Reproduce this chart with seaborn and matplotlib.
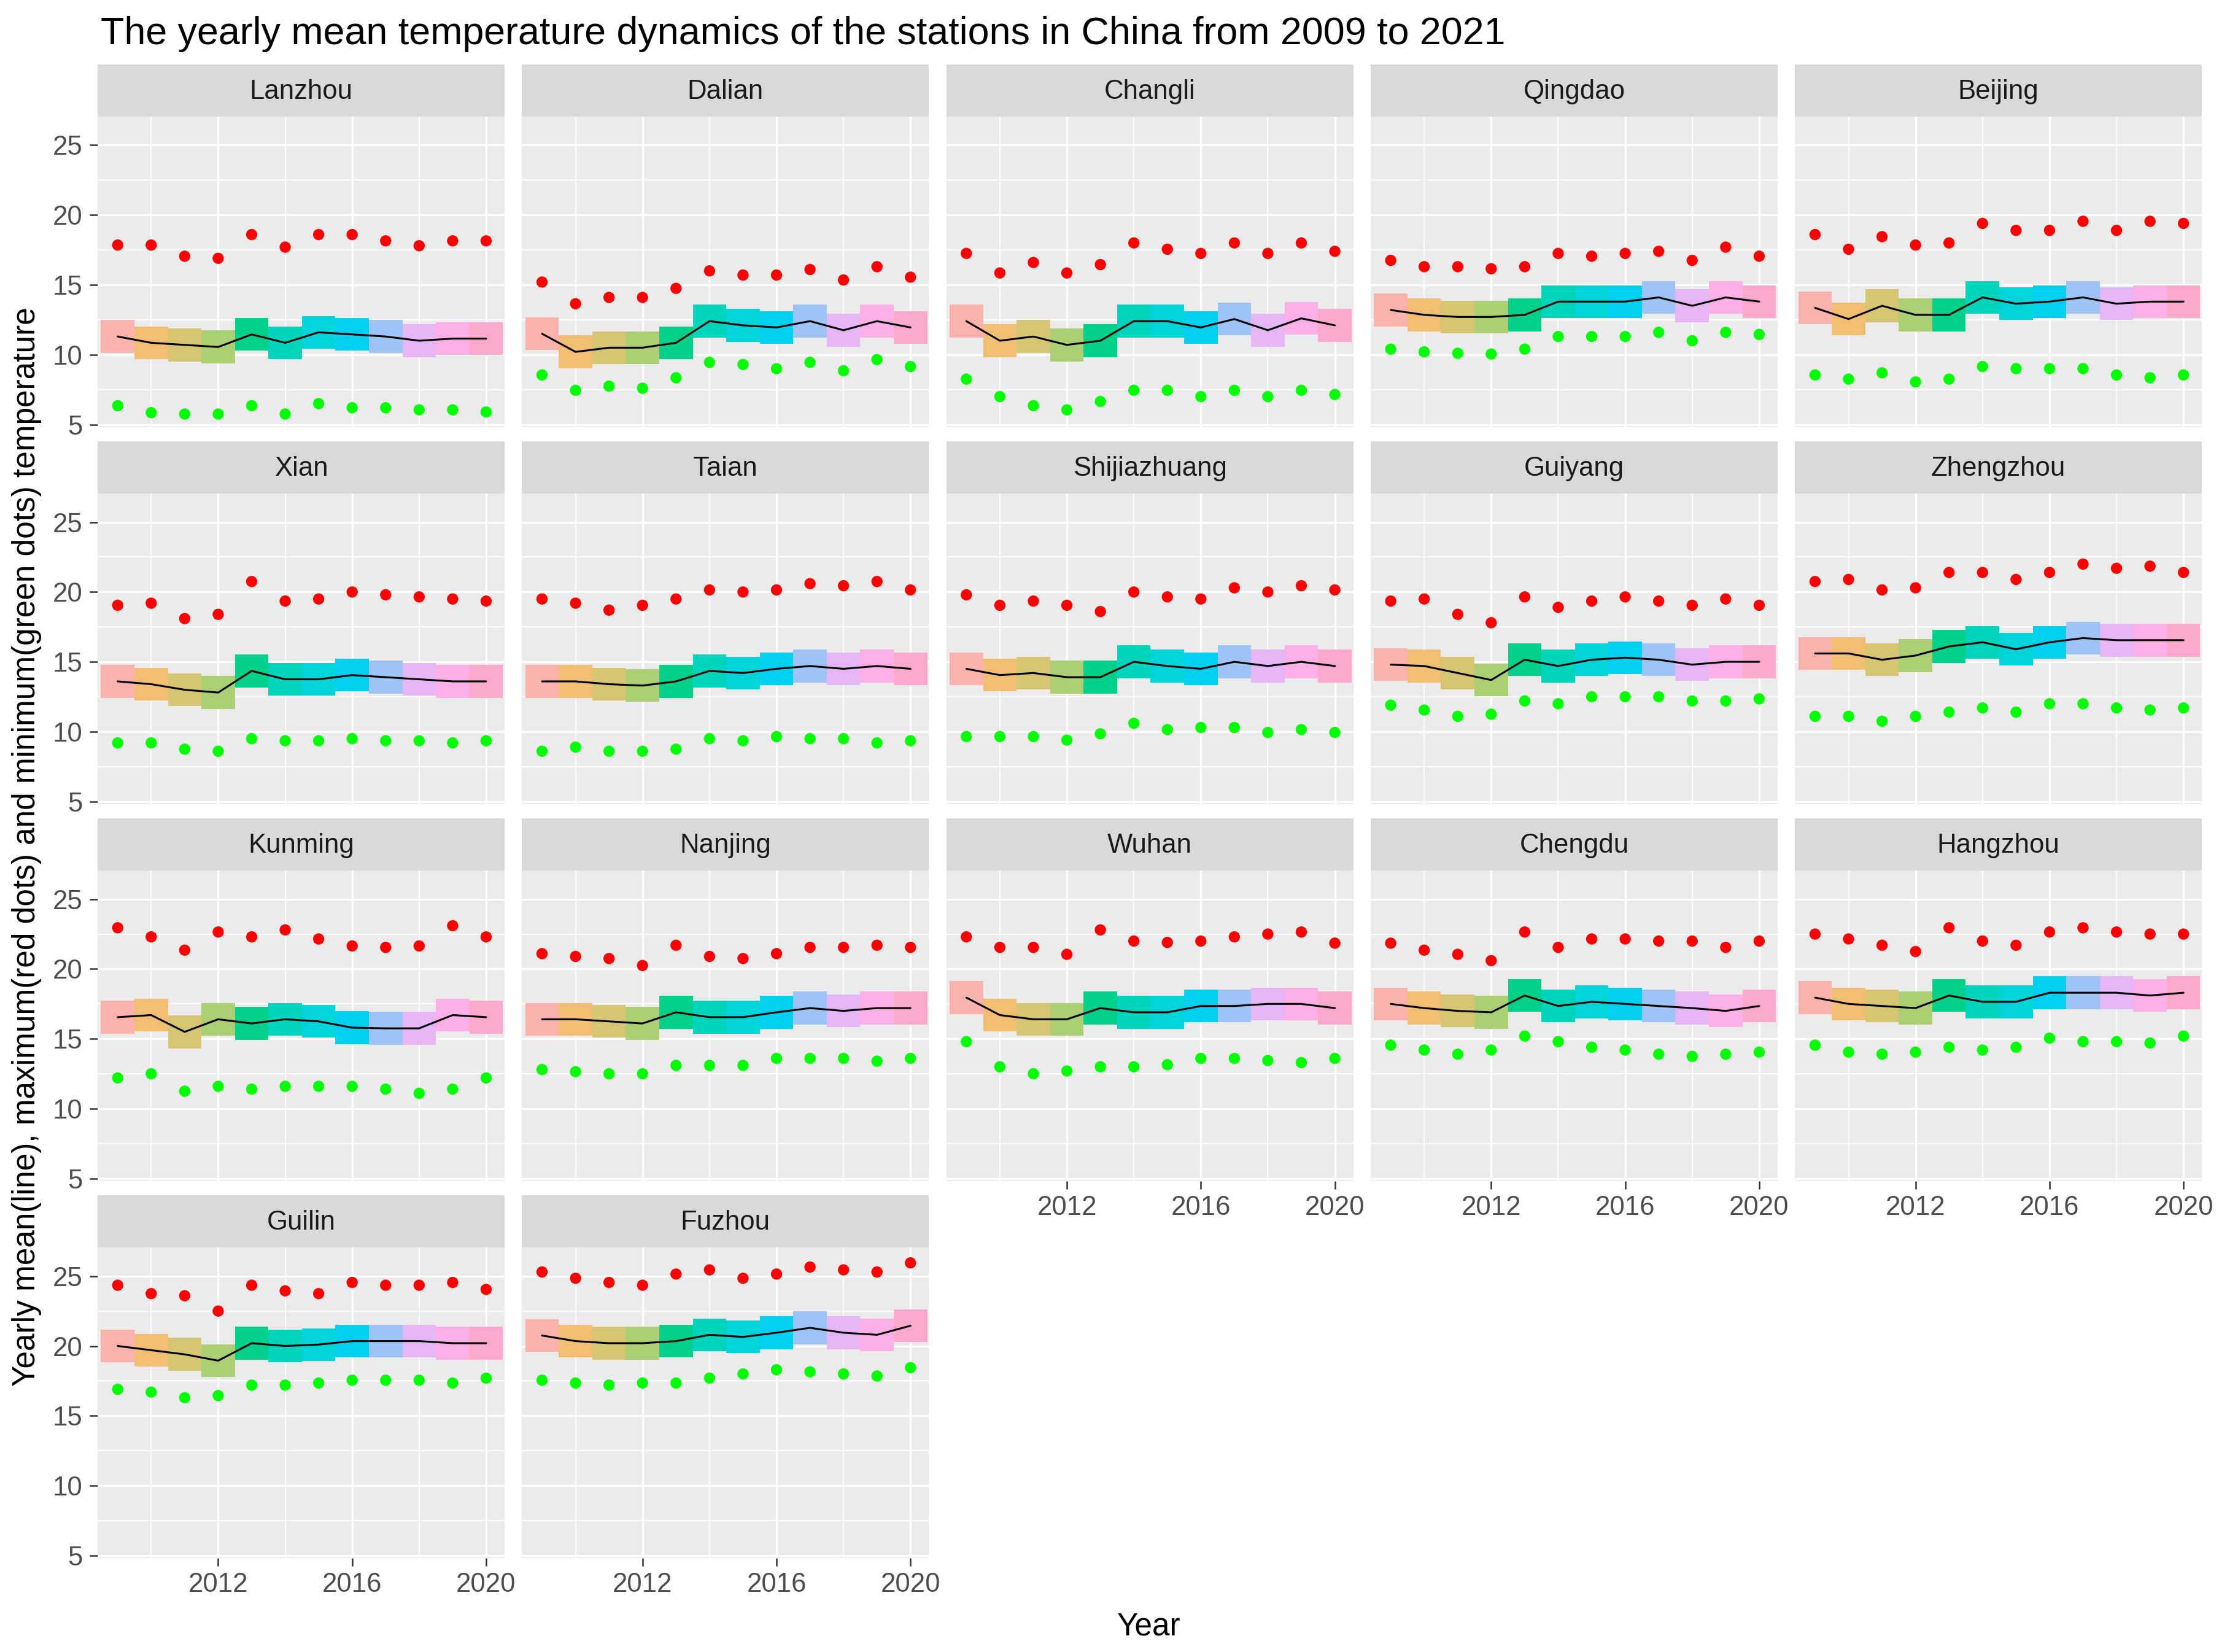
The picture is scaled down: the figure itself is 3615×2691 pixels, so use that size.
import matplotlib
matplotlib.use("Agg")
import matplotlib.pyplot as plt
import seaborn as sns
import pandas as pd
import numpy as np

# ---------------- data ----------------
years = [2009, 2010, 2011, 2012, 2013, 2014, 2015, 2016, 2017, 2018, 2019, 2020]

stations = ["Lanzhou", "Dalian", "Changli", "Qingdao", "Beijing",
            "Xian", "Taian", "Shijiazhuang", "Guiyang", "Zhengzhou",
            "Kunming", "Nanjing", "Wuhan", "Chengdu", "Hangzhou",
            "Guilin", "Fuzhou"]

mean_temp = [
    [11.3, 10.85, 10.7, 10.55, 11.45, 10.85, 11.6, 11.45, 11.3, 11.0, 11.15, 11.15],
    [11.5, 10.2, 10.5, 10.5, 10.85, 12.4, 12.1, 11.95, 12.4, 11.75, 12.4, 11.95],
    [12.4, 11.0, 11.3, 10.7, 11.0, 12.4, 12.4, 11.95, 12.55, 11.75, 12.6, 12.1],
    [13.2, 12.85, 12.7, 12.7, 12.85, 13.8, 13.8, 13.8, 14.1, 13.5, 14.1, 13.8],
    [13.35, 12.55, 13.5, 12.85, 12.85, 14.1, 13.65, 13.8, 14.1, 13.65, 13.8, 13.8],
    [13.6, 13.4, 13.0, 12.8, 14.35, 13.75, 13.75, 14.05, 13.9, 13.75, 13.6, 13.6],
    [13.6, 13.6, 13.4, 13.3, 13.6, 14.35, 14.2, 14.5, 14.7, 14.5, 14.7, 14.5],
    [14.5, 14.05, 14.2, 13.9, 13.9, 15.0, 14.7, 14.5, 15.0, 14.7, 15.0, 14.7],
    [14.8, 14.7, 14.2, 13.7, 15.15, 14.7, 15.15, 15.3, 15.15, 14.8, 15.0, 15.0],
    [15.6, 15.6, 15.15, 15.45, 16.1, 16.4, 15.9, 16.4, 16.7, 16.55, 16.55, 16.55],
    [16.55, 16.7, 15.5, 16.4, 16.1, 16.4, 16.25, 15.8, 15.75, 15.75, 16.7, 16.55],
    [16.4, 16.4, 16.25, 16.1, 16.9, 16.55, 16.55, 16.9, 17.2, 17.0, 17.2, 17.2],
    [17.95, 16.7, 16.4, 16.4, 17.2, 16.9, 16.9, 17.35, 17.35, 17.5, 17.5, 17.2],
    [17.5, 17.2, 17.0, 16.9, 18.1, 17.35, 17.65, 17.5, 17.35, 17.2, 17.0, 17.35],
    [17.95, 17.5, 17.35, 17.2, 18.1, 17.65, 17.65, 18.3, 18.3, 18.3, 18.1, 18.3],
    [20.0, 19.7, 19.4, 18.95, 20.2, 20.0, 20.1, 20.35, 20.35, 20.35, 20.2, 20.2],
    [20.75, 20.35, 20.2, 20.2, 20.35, 20.8, 20.65, 20.95, 21.3, 20.95, 20.8, 21.45],
]

max_temp = [
    [17.85, 17.85, 17.05, 16.9, 18.6, 17.7, 18.6, 18.6, 18.15, 17.8, 18.15, 18.15],
    [15.2, 13.65, 14.1, 14.1, 14.75, 16.0, 15.7, 15.7, 16.1, 15.35, 16.3, 15.55],
    [17.25, 15.85, 16.6, 15.85, 16.45, 18.0, 17.55, 17.25, 18.0, 17.25, 18.0, 17.4],
    [16.75, 16.3, 16.3, 16.15, 16.3, 17.25, 17.05, 17.25, 17.4, 16.75, 17.7, 17.05],
    [18.6, 17.55, 18.45, 17.85, 18.0, 19.4, 18.9, 18.9, 19.55, 18.9, 19.55, 19.4],
    [19.05, 19.2, 18.1, 18.4, 20.75, 19.35, 19.5, 20.0, 19.8, 19.65, 19.5, 19.35],
    [19.5, 19.2, 18.7, 19.05, 19.5, 20.15, 20.0, 20.15, 20.6, 20.45, 20.75, 20.15],
    [19.8, 19.05, 19.35, 19.05, 18.6, 20.0, 19.65, 19.5, 20.3, 20.0, 20.45, 20.15],
    [19.35, 19.5, 18.4, 17.8, 19.65, 18.9, 19.35, 19.65, 19.35, 19.05, 19.5, 19.05],
    [20.75, 20.9, 20.15, 20.3, 21.4, 21.4, 20.9, 21.4, 22.0, 21.7, 21.85, 21.4],
    [22.95, 22.3, 21.35, 22.65, 22.3, 22.8, 22.15, 21.65, 21.55, 21.65, 23.1, 22.3],
    [21.1, 20.9, 20.75, 20.25, 21.7, 20.9, 20.75, 21.1, 21.55, 21.55, 21.7, 21.55],
    [22.3, 21.55, 21.55, 21.05, 22.8, 22.0, 21.9, 22.0, 22.3, 22.5, 22.65, 21.85],
    [21.85, 21.35, 21.05, 20.6, 22.65, 21.55, 22.15, 22.15, 22.0, 22.0, 21.55, 22.0],
    [22.5, 22.15, 21.7, 21.25, 22.95, 22.0, 21.7, 22.65, 22.95, 22.65, 22.5, 22.5],
    [24.35, 23.75, 23.6, 22.5, 24.35, 23.95, 23.75, 24.55, 24.35, 24.35, 24.55, 24.05],
    [25.3, 24.85, 24.55, 24.35, 25.15, 25.45, 24.85, 25.15, 25.65, 25.45, 25.3, 25.95],
]

min_temp = [
    [6.35, 5.85, 5.75, 5.75, 6.35, 5.75, 6.5, 6.2, 6.2, 6.05, 6.05, 5.9],
    [8.55, 7.45, 7.75, 7.6, 8.35, 9.45, 9.3, 9.0, 9.45, 8.85, 9.65, 9.15],
    [8.25, 7.0, 6.35, 6.05, 6.65, 7.45, 7.45, 7.0, 7.45, 7.0, 7.45, 7.15],
    [10.4, 10.2, 10.1, 10.05, 10.4, 11.3, 11.3, 11.3, 11.6, 11.0, 11.6, 11.45],
    [8.55, 8.25, 8.7, 8.05, 8.25, 9.15, 9.0, 9.0, 9.0, 8.55, 8.35, 8.55],
    [9.2, 9.2, 8.75, 8.6, 9.5, 9.35, 9.35, 9.5, 9.35, 9.35, 9.2, 9.35],
    [8.6, 8.9, 8.6, 8.6, 8.75, 9.5, 9.35, 9.65, 9.5, 9.5, 9.2, 9.35],
    [9.65, 9.65, 9.65, 9.4, 9.85, 10.6, 10.15, 10.3, 10.3, 9.95, 10.15, 9.95],
    [11.9, 11.55, 11.1, 11.25, 12.2, 12.0, 12.5, 12.5, 12.5, 12.2, 12.2, 12.35],
    [11.1, 11.1, 10.75, 11.1, 11.4, 11.7, 11.4, 12.0, 12.0, 11.7, 11.55, 11.7],
    [12.2, 12.5, 11.25, 11.6, 11.4, 11.6, 11.6, 11.6, 11.4, 11.1, 11.4, 12.2],
    [12.8, 12.65, 12.5, 12.5, 13.1, 13.1, 13.1, 13.6, 13.6, 13.6, 13.4, 13.6],
    [14.8, 13.0, 12.5, 12.7, 13.0, 13.0, 13.15, 13.6, 13.6, 13.45, 13.3, 13.6],
    [14.55, 14.2, 13.9, 14.2, 15.2, 14.8, 14.4, 14.2, 13.9, 13.75, 13.9, 14.05],
    [14.55, 14.05, 13.9, 14.05, 14.4, 14.2, 14.4, 15.05, 14.8, 14.8, 14.7, 15.2],
    [16.9, 16.7, 16.3, 16.45, 17.2, 17.2, 17.35, 17.55, 17.55, 17.55, 17.35, 17.7],
    [17.55, 17.35, 17.2, 17.35, 17.35, 17.7, 18.0, 18.3, 18.15, 18.0, 17.85, 18.45],
]

x_ticks = [2012, 2016, 2020]
y_ticks = [5, 10, 15, 20, 25]

title = "The yearly mean temperature dynamics of the stations in China from 2009 to 2021"
x_label = "Year"
y_label = "Yearly mean(line), maximum(red dots) and minimum(green dots) temperature"

# ---------------- style ----------------
tile_colors = ["#FCB2AC", "#F2BE74", "#D6C673", "#ABCF72", "#00D08C", "#00D4BC",
               "#00D4D8", "#00CFF0", "#9EC4F6", "#E5B5F5", "#FDAFE8", "#FCA8CC"]
TILE_H = 2.35

sns.set_theme(style="darkgrid")
plt.rcParams["font.family"] = ["Liberation Sans", "DejaVu Sans"]

W, H = 3615, 2691
DPI = 100
fig = plt.figure(figsize=(W / DPI, H / DPI), dpi=DPI)
fig.patch.set_facecolor("white")

ncol = 5
panel_w = 663
col_pitch = 691.3
left0 = 159
strip_top0 = 104.6
row_pitch = 614.1
strip_h = 85
panel_h = 506

XLIM = (2008.40, 2020.55)
YLIM = (4.82, 27.06)

FS_TICK = 31.5
FS_STRIP = 31.5

nrows_in_col = {}
for k in range(len(stations)):
    c = k % ncol
    r = k // ncol
    nrows_in_col[c] = max(nrows_in_col.get(c, 0), r)

for k, name in enumerate(stations):
    r, c = divmod(k, ncol)
    lx = left0 + c * col_pitch
    st = strip_top0 + r * row_pitch
    pt = st + strip_h

    ax = fig.add_axes([lx / W, 1 - (pt + panel_h) / H, panel_w / W, panel_h / H])
    sax = fig.add_axes([lx / W, 1 - pt / H, panel_w / W, strip_h / H])
    sax.set_facecolor("#D9D9D9")
    sax.set_xticks([]); sax.set_yticks([])
    for s in sax.spines.values():
        s.set_visible(False)
    sax.grid(False)
    sax.text(0.5, 0.47, name, ha="center", va="center", fontsize=FS_STRIP,
             color="#1A1A1A", transform=sax.transAxes)

    df = pd.DataFrame({"year": years, "mean": mean_temp[k],
                       "max": max_temp[k], "min": min_temp[k]})

    ax.set_facecolor("#EBEBEB")
    ax.set_axisbelow(True)
    ax.bar(df["year"], TILE_H, bottom=df["mean"] - TILE_H / 2, width=1.0,
           color=tile_colors, linewidth=0, zorder=1)
    sns.lineplot(data=df, x="year", y="mean", ax=ax, color="black",
                 linewidth=2.2, zorder=2)
    sns.scatterplot(data=df, x="year", y="max", ax=ax, color="#FF0000",
                    s=175, edgecolor="none", linewidth=0, zorder=3)
    sns.scatterplot(data=df, x="year", y="min", ax=ax, color="#00FF00",
                    s=175, edgecolor="none", linewidth=0, zorder=3)

    ax.set_xlim(*XLIM)
    ax.set_ylim(*YLIM)
    ax.set_xticks(x_ticks)
    ax.set_xticks([2010, 2014, 2018], minor=True)
    ax.set_yticks(y_ticks)
    ax.set_yticks([7.5, 12.5, 17.5, 22.5], minor=True)
    ax.set_xlabel("")
    ax.set_ylabel("")
    ax.grid(which="major", color="white", linewidth=2.4)
    ax.grid(which="minor", color="white", linewidth=1.25)
    for s in ax.spines.values():
        s.set_visible(False)

    ax.tick_params(which="minor", length=0)
    bottom_panel = (r == nrows_in_col[c])
    if bottom_panel:
        ax.tick_params(axis="x", which="major", length=9.5, width=1.8,
                       color="#333333", labelsize=FS_TICK, labelcolor="#4D4D4D",
                       pad=7, bottom=True)
        ax.set_xticklabels([str(t) for t in x_ticks])
    else:
        ax.tick_params(axis="x", which="major", length=0, labelbottom=False)
    if c == 0:
        ax.tick_params(axis="y", which="major", length=9.5, width=1.8,
                       color="#333333", labelsize=FS_TICK, labelcolor="#4D4D4D",
                       pad=8, left=True)
        ax.set_yticklabels([str(t) for t in y_ticks])
    else:
        ax.tick_params(axis="y", which="major", length=0, labelleft=False)

fig.text(164 / W, 1 - 72 / H, title, ha="left", va="baseline",
         fontsize=45.2, color="black")
fig.text(1872 / W, 1 - 2663 / H, x_label, ha="center", va="baseline",
         fontsize=37, color="black")
fig.text(44 / W, 1 - 2258 / H, y_label, ha="center", va="bottom",
         rotation=90, fontsize=37, color="black")

fig.savefig("out.png", dpi=DPI, facecolor="white")
